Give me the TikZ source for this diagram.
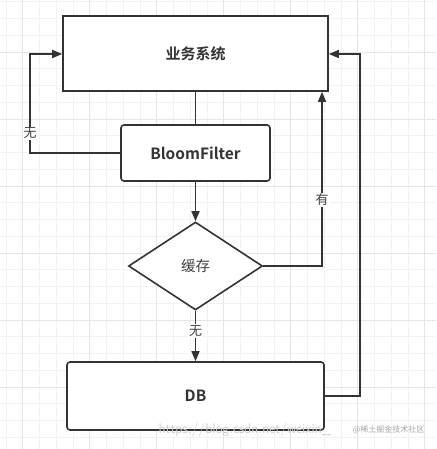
\documentclass[tikz,border=0pt]{standalone}
\usepackage{fontspec}
\setmainfont{Noto Sans CJK SC}
\newfontfamily\cjkbold{Noto Sans CJK SC Bold}
\usetikzlibrary{arrows.meta,shapes.geometric}
\begin{document}
\begin{tikzpicture}[x=1pt,y=-1pt,
  line/.style={draw=black!80, line width=1.6pt},
  arr/.style={line, -{Triangle[length=10pt,width=8pt]}},
  boxa/.style={draw=black!80, line width=1.6pt, fill=white, inner sep=0pt},
  lbl/.style={fill=white, inner sep=1pt, font=\fontsize{13}{15}\selectfont, text=black!75}]
\useasboundingbox (0,0) rectangle (436,449);
\fill[white] (0,0) rectangle (436,449);
% grid
\foreach \i in {0,...,26} {
  \pgfmathsetmacro\xx{6+16.75*\i}
  \draw[black!5, line width=0.6pt] (\xx,0) -- (\xx,449);
}
\foreach \i in {0,...,27} {
  \pgfmathsetmacro\yy{1.75+16.75*\i}
  \draw[black!5, line width=0.6pt] (0,\yy) -- (436,\yy);
}
\foreach \i in {0,...,6} {
  \pgfmathsetmacro\xx{22.7+67*\i}
  \draw[black!10, line width=0.8pt] (\xx,0) -- (\xx,449);
}
\foreach \i in {0,...,6} {
  \pgfmathsetmacro\yy{52+67*\i}
  \draw[black!10, line width=0.8pt] (0,\yy) -- (436,\yy);
}
% nodes
\node[boxa, minimum width=265pt, minimum height=75pt, font=\cjkbold\fontsize{15}{17}\selectfont, text=black!80] (sys) at (195.5,53.5) {业务系统};
\node[boxa, rounded corners=3pt, minimum width=149pt, minimum height=56pt, font=\cjkbold\fontsize{15.5}{17}\selectfont, text=black!80] (bf) at (195.5,153) {BloomFilter};
\node[diamond, draw=black!80, line width=1.6pt, fill=white, minimum width=134pt, minimum height=88pt, inner sep=0pt, aspect=1.52, font=\fontsize{14.5}{16}\selectfont, text=black!75] (cache) at (195.5,266) {缓存};
\node[boxa, rounded corners=3pt, minimum width=257pt, minimum height=68pt, font=\cjkbold\fontsize{15.5}{17}\selectfont, text=black!80] (db) at (195.5,396) {DB};
% coordinates
\coordinate (lx) at (30,153);
\coordinate (ly) at (30,54);
\coordinate (ry) at (322,266);
\coordinate (dbx) at (360,396);
\coordinate (dby) at (360,54);
% connectors
\draw[line] (sys.south) -- (bf.north);
\draw[arr] (bf.south) -- (cache.north);
\draw[arr] (cache.south) -- node[lbl, pos=0.4] {无} (db.north);
\draw[arr] (bf.west) -- (lx) -- node[lbl, pos=0.2] {无} (ly) -- (sys.west |- ly);
\draw[arr] (cache.east) -- (ry) -- node[lbl, pos=0.38] {有} (ry |- sys.south);
\draw[arr] (db.east |- dbx) -- (dbx) -- (dby) -- (sys.east |- dby);
% watermark
\node[text=black!20, font=\sffamily\fontsize{14}{16}\selectfont, anchor=west] (wm1) at (155,430) {https://blog.csdn.net/weixin\_};
\node[text=black!35, font=\fontsize{8}{10}\selectfont, anchor=east] (wm2) at (428,430) {@稀土掘金技术社区};
\end{tikzpicture}
\end{document}
